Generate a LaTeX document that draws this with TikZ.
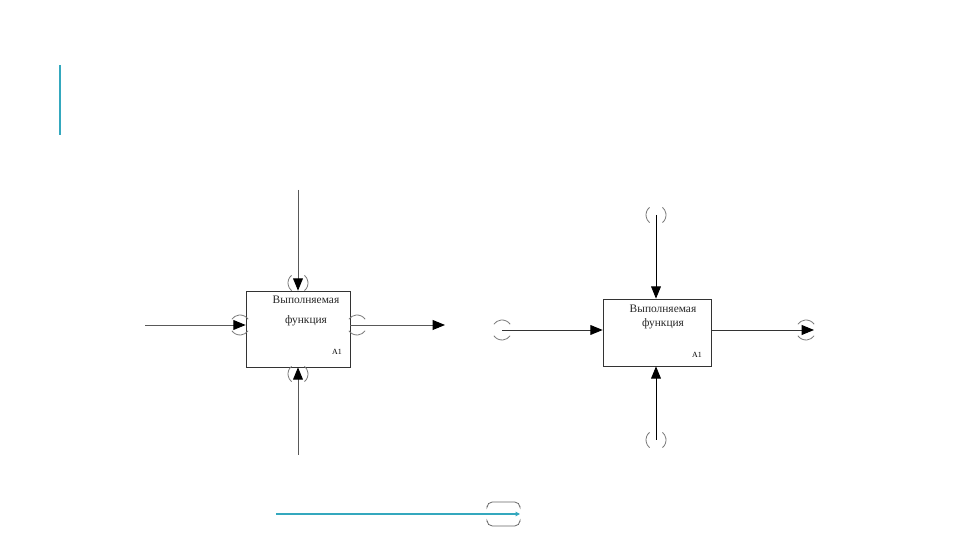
\documentclass[tikz,border=0pt]{standalone}
\usepackage{fontspec}
\setmainfont{Liberation Serif}
\usepackage{xcolor}
\usetikzlibrary{positioning,arrows.meta}
\definecolor{slideteal}{RGB}{52,168,190}
\definecolor{tunnelgray}{RGB}{120,120,120}

\tikzset{
  funcbox/.style={draw,thin,black!80,inner sep=0pt},
  flow/.style={draw,black!65,line width=0.5pt,-{Triangle[length=7pt,width=5.6pt,fill=black,color=black]}},
  tunnel/.style={draw,tunnelgray,line width=0.45pt},
  boxtext/.style={font=\fontsize{6.5}{11}\selectfont,align=center,inner sep=0pt,text=black!85},
  boxnum/.style={font=\fontsize{4.5}{5}\selectfont,inner sep=0pt}
}
% tunnel brackets around a point: vertical / horizontal flow
\newcommand{\tunnelv}[1]{%
  \draw[tunnel] (#1) ++(130:10) arc[start angle=130,end angle=230,radius=10];
  \draw[tunnel] (#1) ++(-50:10) arc[start angle=-50,end angle=50,radius=10];}
\newcommand{\tunnelh}[1]{%
  \draw[tunnel] (#1) ++(35:10) arc[start angle=35,end angle=145,radius=10];
  \draw[tunnel] (#1) ++(215:10) arc[start angle=215,end angle=325,radius=10];}

\begin{document}
\begin{tikzpicture}[x=0.02cm,y=0.02cm]
  \useasboundingbox (0,0) rectangle (960,540);
  % accent bar
  \draw[slideteal,line width=1.3pt] (60,475) -- (60,405);

  % left block: tunnelled at the box
  \node[funcbox,minimum width=2.08cm,minimum height=1.52cm] (boxA) at (298,211) {};
  \node[boxtext] (txtA) at (306,229) {Выполняемая\\функция};
  \node[boxnum] (numA) at (337,188) {A1};
  \coordinate (ctlA) at (298,350);
  \coordinate (inA) at (145,215);
  \coordinate (outA) at (445,215);
  \coordinate (mecA) at (298,85);
  \draw[flow] (ctlA) -- (boxA.north);
  \draw[flow] (inA) -- (inA -| boxA.west);
  \draw[flow] (inA -| boxA.east) -- (outA);
  \draw[flow] (mecA) -- (boxA.south);
  \tunnelv{298,257}
  \tunnelh{240,215}
  \tunnelh{357,215}
  \tunnelv{298,166}

  % right block: tunnelled at the far ends
  \node[funcbox,minimum width=2.16cm,minimum height=1.34cm] (boxB) at (657,207.5) {};
  \node[boxtext,font=\fontsize{6.5}{8.5}\selectfont] (txtB) at (663,223) {Выполняемая\\функция};
  \node[boxnum] (numB) at (697,185) {A1};
  \coordinate (ctlB) at (656,325);
  \coordinate (inB) at (502,210);
  \coordinate (outB) at (814,210);
  \coordinate (mecB) at (656,100);
  \draw[flow,black] (ctlB) -- (ctlB |- boxB.north);
  \draw[flow,black!80] (inB) -- (inB -| boxB.west);
  \draw[flow,black!80] (outB -| boxB.east) -- (outB);
  \draw[flow,black] (mecB) -- (mecB |- boxB.south);
  \tunnelv{656,325}
  \tunnelh{502,210}
  \tunnelh{806,210}
  \tunnelv{656,100}

  % bottom line
  \coordinate (lineS) at (276,26);
  \coordinate (lineE) at (520,26);
  \draw[slideteal,line width=1.2pt,-{Triangle[length=2.5pt,width=2.5pt]}] (lineS) -- (lineE);
  \draw[tunnel,black!60,rounded corners=3pt] (487,34) |- (503,38) -| (520,34);
  \draw[tunnel,black!60,rounded corners=3pt] (487,18) |- (503,14) -| (520,18);
\end{tikzpicture}
\end{document}
